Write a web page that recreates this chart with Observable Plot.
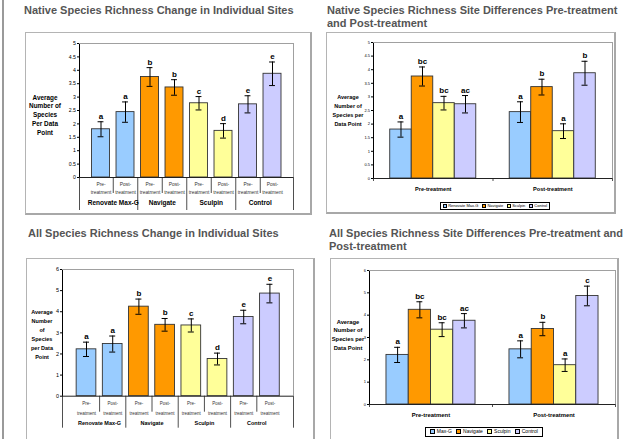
<!DOCTYPE html>
<html><head><meta charset="utf-8">
<script src="https://cdn.jsdelivr.net/npm/d3@7"></script>
<script src="https://cdn.jsdelivr.net/npm/@observablehq/plot@0.6"></script>
<style>
body{margin:0;background:#fff;font-family:"Liberation Sans",Arial,sans-serif;}
#page{position:relative;width:641px;height:439px;overflow:hidden;background:#fff;}
.title{position:absolute;font-weight:bold;font-size:11px;line-height:13.3px;color:#555;white-space:nowrap;}
.box{position:absolute;border-top:1px solid #b4b4b4;border-left:1px solid #b4b4b4;border-right:2px solid #a8a8a8;border-bottom:2px solid #a8a8a8;box-sizing:border-box;}
.ytitle{position:absolute;font-weight:bold;text-align:center;color:#000;white-space:nowrap;}
.legend{position:absolute;border:1px solid #000;box-sizing:border-box;display:flex;align-items:center;justify-content:center;white-space:nowrap;color:#000;background:#fff;}
.legend .sw{display:inline-block;border:0.8px solid #000;box-sizing:border-box;}
</style></head>
<body>
<div id="page"></div>
<script>
// ---------- data ----------
const sites = ["Renovate Max-G", "Navigate", "Sculpin", "Control"];
const legendSitesAll = ["Max-G", "Navigate", "Sculpin", "Control"];
const periods = ["Pre-treatment", "Post-treatment"];
const periodShort = ["Pre-\ntreatment", "Post-\ntreatment"];
const siteColors = ["#99CCFF", "#FF9900", "#FFFF99", "#CCCCFF"];

const nativePre = [1.80, 3.75, 2.77, 2.73];
const nativePost = [2.44, 3.36, 1.74, 3.87];
const nativePreErr = [0.28, 0.35, 0.25, 0.32];
const nativePostErr = [0.38, 0.29, 0.27, 0.44];

const allPre = [2.22, 4.24, 3.35, 3.75];
const allPost = [2.47, 3.38, 1.76, 4.86];
const allPreErr = [0.34, 0.36, 0.31, 0.32];
const allPostErr = [0.38, 0.30, 0.28, 0.44];

const nativeChangeLetters = ["a", "a", "b", "b", "c", "d", "e", "e"];
const allChangeLetters = ["a", "a", "b", "b", "c", "d", "e", "e"];
const nativeDiffPreLetters = ["a", "bc", "bc", "ac"];
const nativeDiffPostLetters = ["a", "b", "a", "b"];
const allDiffPreLetters = ["a", "bc", "bc", "ac"];
const allDiffPostLetters = ["a", "b", "a", "c"];

const titles = [
  "Native Species Richness Change in Individual Sites",
  "Native Species Richness Site Differences Pre-treatment<br>and Post-treatment",
  "All Species Richness Change in Individual Sites",
  "All Species Richness Site Differences Pre-treatment and<br>Post-treatment"
];
const yTitles = [
  ["Average", "Number of", "Species", "Per Data", "Point"],
  ["Average", "Number of", "Species per", "Data Point"],
  ["Average", "Number", "of", "Species", "per Data", "Point"],
  ["Average", "Number of", "Species per", "Data Point"]
];

// ---------- helpers ----------
const page = document.getElementById("page");
function addDiv(cls, css, html) {
  const d = document.createElement("div");
  if (cls) d.className = cls;
  Object.assign(d.style, css);
  if (html != null) d.innerHTML = html;
  page.appendChild(d);
  return d;
}
function place(svg, left, top) {
  svg.style.position = "absolute";
  svg.style.left = left + "px";
  svg.style.top = top + "px";
  page.appendChild(svg);
}
const color = {domain: sites, range: siteColors};

function changePanel(o) {
  const rows = [];
  sites.forEach((site, s) => {
    [o.pre, o.post].forEach((arr, p) => {
      const err = p === 0 ? o.preErr[s] : o.postErr[s];
      rows.push({i: s * 2 + p, s, p, site, mean: arr[s], err, letter: o.letters[s * 2 + p]});
    });
  });
  const hw = o.halfW, cw = o.capW;
  const shortSeps = sites.map((d, s) => s * 2 + 0.5);
  const longSeps = sites.slice(1).map((d, s) => (s + 1) * 2 - 0.5).concat(o.xDomain);
  const svg = Plot.plot({
    width: o.width, height: o.height,
    marginLeft: o.ml, marginRight: o.mr, marginTop: o.mt, marginBottom: o.mb,
    x: {domain: o.xDomain, axis: null},
    y: {domain: [0, o.yMax], ticks: o.yTicks, tickFormat: d => String(d), tickSize: 2, tickPadding: 1.5, line: true, label: null},
    color,
    style: {fontSize: o.tickFont + "px", fontFamily: "Liberation Sans, Arial, sans-serif", color: "#000", background: "transparent", overflow: "visible"},
    marks: [
      Plot.ruleY([o.yMax], {stroke: "#a0a0a0", strokeWidth: 1}),
      Plot.ruleX([o.xDomain[1]], {stroke: "#a0a0a0", strokeWidth: 1}),
      Plot.rectY(rows, {x1: d => d.i - hw, x2: d => d.i + hw, y1: () => 0, y2: "mean", fill: "site", stroke: "#333", strokeWidth: 0.9}),
      Plot.ruleX(rows, {x: "i", y1: d => d.mean - d.err, y2: d => d.mean + d.err, stroke: "#000", strokeWidth: 1}),
      Plot.ruleY(rows, {y: d => d.mean - d.err, x1: d => d.i - cw, x2: d => d.i + cw, stroke: "#000", strokeWidth: 1}),
      Plot.ruleY(rows, {y: d => d.mean + d.err, x1: d => d.i - cw, x2: d => d.i + cw, stroke: "#000", strokeWidth: 1}),
      Plot.text(rows, {x: "i", y: d => d.mean + d.err, text: "letter", lineAnchor: "bottom", dy: -3, fontSize: 8, fontWeight: "bold"}),
      Plot.ruleY([0], {stroke: "#222", strokeWidth: 1}),
      Plot.ruleX(shortSeps, {x: d => d, y1: () => 0, y2: () => 0, insetBottom: -o.shortLen, stroke: "#222", strokeWidth: 0.8}),
      Plot.ruleX(longSeps, {x: d => d, y1: () => 0, y2: () => 0, insetBottom: -o.longLen, stroke: "#222", strokeWidth: 0.8}),
      Plot.text(rows, {x: "i", y: () => 0, text: d => periodShort[d.p], lineAnchor: "top", dy: o.subDy, fontSize: o.subFont, lineHeight: o.subLH, fill: "#333"}),
      Plot.text(sites, {x: (d, s) => s * 2 + 0.5, y: () => 0, text: d => d, lineAnchor: "middle", dy: o.grpDy, fontSize: o.grpFont, fontWeight: "bold"})
    ]
  });
  place(svg, o.left, o.top);
}

function diffPanel(o) {
  const rows = [];
  [[o.pre, o.preErr, o.preLetters], [o.post, o.postErr, o.postLetters]].forEach(([m, e, l], p) => {
    sites.forEach((site, s) => {
      rows.push({p, s, site, mean: m[s], err: e[s], letter: l[s],
        x1: p + (s - 2) * o.bw, x2: p + (s - 1) * o.bw, xc: p + (s - 1.5) * o.bw});
    });
  });
  const cw = o.capW;
  const edges = periods.map((d, p) => p - 0.5).concat([periods.length - 0.5]);
  const svg = Plot.plot({
    width: o.width, height: o.height,
    marginLeft: o.ml, marginRight: o.mr, marginTop: o.mt, marginBottom: o.mb,
    x: {domain: [-0.5, periods.length - 0.5], axis: null},
    y: {domain: [0, o.yMax], ticks: o.yTicks, tickFormat: d => String(d), tickSize: 2, tickPadding: 1.5, line: true, label: null},
    color,
    style: {fontSize: o.tickFont + "px", fontFamily: "Liberation Sans, Arial, sans-serif", color: "#000", background: "transparent", overflow: "visible"},
    marks: [
      Plot.ruleY([o.yMax], {stroke: "#a0a0a0", strokeWidth: 1}),
      Plot.ruleX([periods.length - 0.5], {stroke: "#a0a0a0", strokeWidth: 1}),
      Plot.rectY(rows, {x1: "x1", x2: "x2", y1: () => 0, y2: "mean", fill: "site", stroke: "#333", strokeWidth: 0.9}),
      Plot.ruleX(rows, {x: "xc", y1: d => d.mean - d.err, y2: d => d.mean + d.err, stroke: "#000", strokeWidth: 1}),
      Plot.ruleY(rows, {y: d => d.mean - d.err, x1: d => d.xc - cw, x2: d => d.xc + cw, stroke: "#000", strokeWidth: 1}),
      Plot.ruleY(rows, {y: d => d.mean + d.err, x1: d => d.xc - cw, x2: d => d.xc + cw, stroke: "#000", strokeWidth: 1}),
      Plot.text(rows, {x: "xc", y: d => d.mean + d.err, text: "letter", lineAnchor: "bottom", dy: -3, fontSize: 8, fontWeight: "bold"}),
      Plot.ruleY([0], {stroke: "#222", strokeWidth: 1}),
      Plot.ruleX(edges, {x: d => d, y1: () => 0, y2: () => 0, insetBottom: -3, stroke: "#222", strokeWidth: 0.8}),
      Plot.text(periods, {x: (d, p) => p, y: () => 0, text: d => d, lineAnchor: "middle", dy: o.catDy, fontSize: o.catFont, fontWeight: "bold"})
    ]
  });
  place(svg, o.left, o.top);
}

function legend(names, css, font, sw) {
  const html = names.map((n, i) =>
    `<span class="sw" style="width:${sw}px;height:${sw}px;background:${siteColors[i]};margin-right:${font * 0.35}px"></span><span style="margin-right:${i < names.length - 1 ? font * 0.9 : 0}px">${n}</span>`
  ).join("");
  const d = addDiv("legend", Object.assign({fontSize: font + "px", lineHeight: "1"}, css), html);
}

// ---------- page frame ----------
addDiv(null, {position: "absolute", left: "2px", top: "0px", width: "1.5px", height: "439px", background: "#9a9a9a"});

// boxes
addDiv("box", {left: "25px", top: "32px", width: "287px", height: "183px"});
addDiv("box", {left: "326px", top: "32px", width: "290px", height: "182px"});
addDiv("box", {left: "26px", top: "258px", width: "289px", height: "200px"});
addDiv("box", {left: "330px", top: "258px", width: "289px", height: "200px"});

// titles
addDiv("title", {left: "24px", top: "3.5px"}, titles[0]);
addDiv("title", {left: "327px", top: "3.5px"}, titles[1]);
addDiv("title", {left: "28px", top: "226.5px"}, titles[2]);
addDiv("title", {left: "329px", top: "226.5px"}, titles[3]);

// y titles
function yTitle(lines, cx, top, font, lh) {
  addDiv("ytitle", {left: (cx - 30) + "px", width: "60px", top: top + "px", fontSize: font + "px", lineHeight: lh + "px"}, lines.join("<br>"));
}
yTitle(yTitles[0], 45, 93.6, 6.4, 8.8);
yTitle(yTitles[1], 348, 92.5, 5.5, 9);
yTitle(yTitles[2], 42, 307.5, 5.5, 9.1);
yTitle(yTitles[3], 348, 317.6, 5.8, 8.7);

// ---------- charts ----------
changePanel({
  left: 25, top: 32, width: 290, height: 183, ml: 54, mr: 22, mt: 11, mb: 38,
  xDomain: [-0.878, 7.857], yMax: 5, yTicks: 10, tickFont: 5.2,
  halfW: 0.367, capW: 0.12,
  pre: nativePre, post: nativePost, preErr: nativePreErr, postErr: nativePostErr, letters: nativeChangeLetters,
  shortLen: 16, longLen: 33, subDy: 3, subFont: 4.9, subLH: 1.65, grpDy: 25, grpFont: 6.5
});
diffPanel({
  left: 326, top: 32, width: 290, height: 182, ml: 47, mr: 4, mt: 10, mb: 36,
  yMax: 5, yTicks: 10, tickFont: 4, bw: 0.18, capW: 0.025,
  pre: nativePre, post: nativePost, preErr: nativePreErr, postErr: nativePostErr,
  preLetters: nativeDiffPreLetters, postLetters: nativeDiffPostLetters,
  catDy: 11, catFont: 5.6
});
changePanel({
  left: 26, top: 258, width: 290, height: 181, ml: 36, mr: 23, mt: 11, mb: 43.3,
  xDomain: [-0.916, 7.9], yMax: 6, yTicks: 6, tickFont: 5.5,
  halfW: 0.376, capW: 0.115,
  pre: allPre, post: allPost, preErr: allPreErr, postErr: allPostErr, letters: allChangeLetters,
  shortLen: 16, longLen: 32, subDy: 1.9, subFont: 4.5, subLH: 2.2, grpDy: 26.6, grpFont: 5.5
});
diffPanel({
  left: 330, top: 258, width: 289, height: 181, ml: 39, mr: 4, mt: 12, mb: 35,
  yMax: 6, yTicks: 6, tickFont: 4, bw: 0.181, capW: 0.024,
  pre: allPre, post: allPost, preErr: allPreErr, postErr: allPostErr,
  preLetters: allDiffPreLetters, postLetters: allDiffPostLetters,
  catDy: 10.5, catFont: 5.9
});

// legends
legend(sites, {left: "440px", top: "202px", width: "110px", height: "8px"}, 4, 4);
legend(legendSitesAll, {left: "425px", top: "427px", width: "118px", height: "9.5px"}, 5, 5);
</script>
</body></html>
